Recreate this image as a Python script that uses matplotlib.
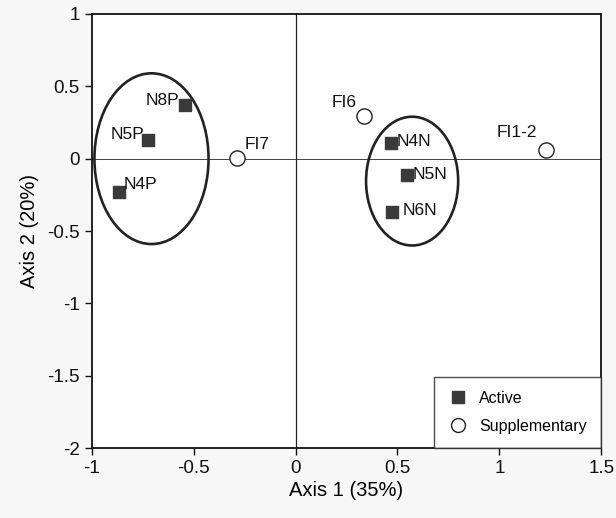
import matplotlib
matplotlib.use("Agg")
import matplotlib.pyplot as plt
from matplotlib.patches import Ellipse
from matplotlib.lines import Line2D

plt.rcParams["font.family"] = ["Liberation Sans", "DejaVu Sans"]

# active points
active_names = ["N8P", "N5P", "N4P", "N4N", "N5N", "N6N"]
active_x = [-0.545, -0.722, -0.864, 0.467, 0.545, 0.471]
active_y = [0.373, 0.131, -0.228, 0.110, -0.110, -0.366]

# supplementary points
supp_names = ["FI7", "FI6", "FI1-2"]
supp_x = [-0.285, 0.334, 1.228]
supp_y = [0.007, 0.297, 0.062]

# label offsets in points (dx, dy, ha)
active_offsets = [(-4, 3, "right"), (-3, 4, "right"), (3, 5, "left"),
                  (4, 1, "left"), (4, 0, "left"), (8, 1, "left")]
supp_offsets = [(5, 4, "left"), (-5, 4, "right"), (-6, 7, "right")]

# group ellipses: center x, center y, width, height
ell_cx = [-0.707, 0.572]
ell_cy = [0.0, -0.155]
ell_w = [0.56, 0.452]
ell_h = [1.18, 0.89]

fig = plt.figure(figsize=(6.16, 5.18), dpi=100)
ax = fig.add_axes([0.149, 0.135, 0.827, 0.838])

ax.axhline(0, color="#444444", lw=0.7, zorder=1)
ax.axvline(0, color="#222222", lw=0.9, zorder=1)

for cx, cy, w, h in zip(ell_cx, ell_cy, ell_w, ell_h):
    ax.add_patch(Ellipse((cx, cy), w, h, fill=False, edgecolor="#222222", lw=1.9, zorder=2))

ax.scatter(active_x, active_y, marker="s", s=70, color="#3a3a3a", zorder=3)
ax.scatter(supp_x, supp_y, marker="o", s=120, facecolor="white", edgecolor="#222222", lw=1.0, zorder=3)

for name, x, y, (dx, dy, ha) in zip(active_names, active_x, active_y, active_offsets):
    ax.annotate(name, (x, y), xytext=(dx, dy), textcoords="offset points",
                ha=ha, va="center", fontsize=12.5, color="#111111")
for name, x, y, (dx, dy, ha) in zip(supp_names, supp_x, supp_y, supp_offsets):
    ax.annotate(name, (x, y), xytext=(dx, dy), textcoords="offset points",
                ha=ha, va="bottom", fontsize=12.5, color="#111111")

ax.set_xlim(-1, 1.5)
ax.set_ylim(-2, 1)
ax.set_xticks([-1, -0.5, 0, 0.5, 1, 1.5])
ax.set_xticklabels(["-1", "-0.5", "0", "0.5", "1", "1.5"])
ax.set_yticks([-2, -1.5, -1, -0.5, 0, 0.5, 1])
ax.set_yticklabels(["-2", "-1.5", "-1", "-0.5", "0", "0.5", "1"])
ax.tick_params(direction="out", length=5, width=1, labelsize=13.5, colors="#111111")
for s in ax.spines.values():
    s.set_linewidth(1.3)
    s.set_color("#111111")

ax.set_xlabel("Axis 1 (35%)", fontsize=14.5, labelpad=3)
ax.set_ylabel("Axis 2 (20%)", fontsize=14.5, labelpad=6)

handles = [
    Line2D([], [], marker="s", ls="", color="#3a3a3a", markersize=8, label="Active"),
    Line2D([], [], marker="o", ls="", markerfacecolor="white", markeredgecolor="#222222",
           markersize=10, label="Supplementary"),
]
leg = ax.legend(handles=handles, loc="lower right", bbox_to_anchor=(1.0, 0.0),
                fontsize=11.5, frameon=True, fancybox=False, borderaxespad=0,
                handlelength=1.2, handletextpad=0.7, borderpad=0.9, labelspacing=0.8)
leg.get_frame().set_edgecolor("#222222")
leg.get_frame().set_linewidth(1.0)

fig.savefig("out.png", dpi=100, facecolor="#f7f7f7")
